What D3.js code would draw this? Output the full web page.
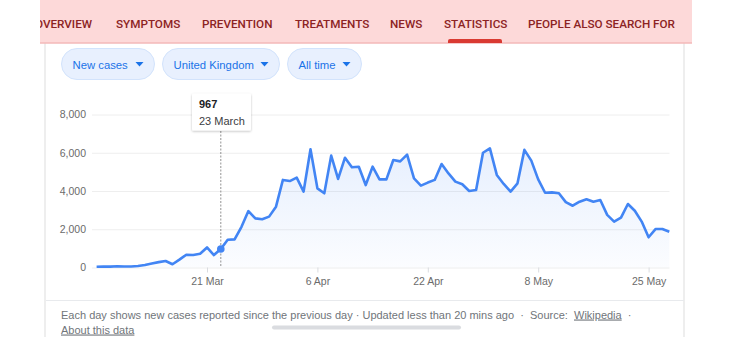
<!DOCTYPE html>
<html><head><meta charset="utf-8">
<script src="https://cdn.jsdelivr.net/npm/d3@7"></script>
<style>
html,body{margin:0;padding:0;background:#fff;overflow:hidden;}
svg{display:block;font-family:"Liberation Sans",Arial,sans-serif;}
</style></head>
<body><svg id="c" width="730" height="337"></svg>
<script>
const navItems = ["OVERVIEW","SYMPTOMS","PREVENTION","TREATMENTS","NEWS","STATISTICS","PEOPLE ALSO SEARCH FOR"];
const filters = ["New cases","United Kingdom","All time"];
const dates = ["5 Mar","6 Mar","7 Mar","8 Mar","9 Mar","10 Mar","11 Mar","12 Mar","13 Mar","14 Mar","15 Mar","16 Mar","17 Mar","18 Mar","19 Mar","20 Mar","21 Mar","22 Mar","23 Mar","24 Mar","25 Mar","26 Mar","27 Mar","28 Mar","29 Mar","30 Mar","31 Mar",
"1 Apr","2 Apr","3 Apr","4 Apr","5 Apr","6 Apr","7 Apr","8 Apr","9 Apr","10 Apr","11 Apr","12 Apr","13 Apr","14 Apr","15 Apr","16 Apr","17 Apr","18 Apr","19 Apr","20 Apr","21 Apr","22 Apr","23 Apr","24 Apr","25 Apr","26 Apr","27 Apr","28 Apr","29 Apr","30 Apr",
"1 May","2 May","3 May","4 May","5 May","6 May","7 May","8 May","9 May","10 May","11 May","12 May","13 May","14 May","15 May","16 May","18 May","19 May","20 May","21 May","22 May","23 May","24 May","25 May","26 May","27 May","28 May"];
const newCases = [40,50,45,65,50,55,80,130,210,280,340,170,410,670,650,720,1050,650,967,1450,1470,2130,2950,2570,2520,2660,3180,
4580,4520,4700,3970,6180,4140,3880,5850,4630,5740,5240,5270,4310,5270,4610,4610,5620,5550,5900,4660,4280,4440,4580,5410,4920,4490,4350,4000,4050,6000,
6230,4840,4370,3970,4400,6150,5590,4610,3910,3930,3880,3420,3230,3440,3570,3440,3530,2750,2400,2610,3320,2970,2400,1580,2010,2010,1870];
const xTickDates = ["21 Mar","6 Apr","22 Apr","8 May","25 May"];
const yTicks = [0,2000,4000,6000,8000];
const tooltipDate = "23 Mar";
const tooltipLabel = "23 March";
const footerText = "Each day shows new cases reported since the previous day · Updated less than 20 mins ago  ·  Source:  ";

const svg = d3.select("#c");
const defs = svg.append("defs");
const grad = defs.append("linearGradient").attr("id","ag").attr("x1",0).attr("y1",0).attr("x2",0).attr("y2",1);
grad.append("stop").attr("offset","0%").attr("stop-color","#4285f4").attr("stop-opacity",0.13);
grad.append("stop").attr("offset","100%").attr("stop-color","#4285f4").attr("stop-opacity",0.02);
const sh = defs.append("filter").attr("id","sh").attr("x","-20%").attr("y","-20%").attr("width","140%").attr("height","160%");
sh.append("feDropShadow").attr("dx",0).attr("dy",1).attr("stdDeviation",1.2).attr("flood-color","#000").attr("flood-opacity",0.25);

// card
svg.append("rect").attr("x",45).attr("y",30).attr("width",639).attr("height",330).attr("fill","#fff")
  .attr("stroke","#e3e3e3").attr("stroke-width",1.2);
svg.append("line").attr("x1",46).attr("x2",684).attr("y1",300.5).attr("y2",300.5).attr("stroke","#e8eaed");

// header band
svg.append("rect").attr("x",40).attr("y",0).attr("width",652).attr("height",43).attr("fill","#fdd9d9");
svg.append("line").attr("x1",40).attr("x2",692).attr("y1",43).attr("y2",43).attr("stroke","#f3b9b9").attr("stroke-width",1.5);
const navX = [41,116,202,295,390,444,528];
const nav = svg.append("g").attr("clip-path","url(#navclip)");
defs.append("clipPath").attr("id","navclip").append("rect").attr("x",40).attr("y",0).attr("width",652).attr("height",43);
nav.selectAll("text").data(navItems).join("text")
  .attr("x",(d,i)=>navX[i]-(i===0?6:0)).attr("y",27.5)
  .attr("font-family","Roboto, 'Liberation Sans', sans-serif").attr("font-weight",500).attr("font-size",11.7)
  .attr("fill","#8c2323").text(d=>d);
svg.append("path").attr("d","M448,43 v-2 a2,2 0 0 1 2,-2 h50 a2,2 0 0 1 2,2 v2 z").attr("fill","#d93a32");

// filter chips
const chipX = [61.5,162.5,287.5], chipW=[93,117,74];
const chips = svg.selectAll("g.chip").data(filters).join("g").attr("class","chip");
chips.append("rect").attr("x",(d,i)=>chipX[i]).attr("y",48.5).attr("width",(d,i)=>chipW[i]).attr("height",31).attr("rx",15.5)
  .attr("fill","#e8f0fe").attr("stroke","#d2e3fc");
chips.append("text").attr("x",(d,i)=>chipX[i]+11).attr("y",68.5).attr("font-size",11.3).attr("fill","#1a73e8").text(d=>d);
chips.append("path").attr("d",(d,i)=>{const x=chipX[i]+chipW[i]-19;return `M${x},62 l8,0 l-4,4.5 z`;}).attr("fill","#1a73e8");

// scales
const x = d3.scalePoint().domain(dates).range([96.6,669.3]);
const y = d3.scaleLinear().domain([0,8000]).range([267.5,114.5]);

// grid + y axis
const yAxis = d3.axisLeft(y).tickValues(yTicks).tickSize(-(669.5-92)).tickFormat(d3.format(","));
const gy = svg.append("g").attr("transform","translate(92,0)").call(yAxis);
gy.select(".domain").remove();
gy.selectAll(".tick line").attr("stroke","#eeeeee");
gy.selectAll(".tick text").attr("x",-6).attr("font-size",10.5).attr("fill","#6b6b6b").attr("font-family","'Liberation Sans',Arial,sans-serif");

// x axis
const xAxis = d3.axisBottom(x).tickValues(xTickDates).tickSize(5).tickPadding(5);
const gx = svg.append("g").attr("transform","translate(0,267.5)").call(xAxis);
gx.select(".domain").remove();
gx.selectAll(".tick line").attr("stroke","#dadce0");
gx.selectAll(".tick text").attr("font-size",10.5).attr("fill","#6b6b6b").attr("font-family","'Liberation Sans',Arial,sans-serif");

// area + line
const pts = dates.map((d,i)=>({d, v:newCases[i]}));
svg.append("path").datum(pts).attr("fill","url(#ag)")
  .attr("d", d3.area().x(p=>x(p.d)).y0(y(0)).y1(p=>y(p.v)));
svg.append("path").datum(pts).attr("fill","none").attr("stroke","#4285f4").attr("stroke-width",2.6)
  .attr("stroke-linejoin","round").attr("d", d3.line().x(p=>x(p.d)).y(p=>y(p.v)));

// tooltip
const ti = dates.indexOf(tooltipDate);
const tx = x(tooltipDate), tv = newCases[ti];
svg.append("line").attr("x1",tx).attr("x2",tx).attr("y1",131).attr("y2",y(0))
  .attr("stroke","#777").attr("stroke-width",0.8).attr("stroke-dasharray","2,1.5");
svg.append("circle").attr("cx",tx).attr("cy",y(tv)).attr("r",3.8).attr("fill","#4285f4");
svg.append("rect").attr("x",192).attr("y",93.5).attr("width",59).attr("height",37).attr("rx",1.5)
  .attr("fill","#fff").attr("filter","url(#sh)");
svg.append("text").attr("x",199).attr("y",107.5).attr("font-size",11).attr("font-weight","bold").attr("fill","#202124").text(d3.format(",")(tv));
svg.append("text").attr("x",199).attr("y",125).attr("font-size",11).attr("fill","#3c4043").text(tooltipLabel);

// footer
const ft = svg.append("text").attr("x",61).attr("y",318.5).attr("font-size",11).attr("fill","#70757a").attr("xml:space","preserve").style("white-space","pre");
ft.append("tspan").text(footerText);
ft.append("tspan").attr("text-decoration","underline").text("Wikipedia");
ft.append("tspan").text("  ·");
svg.append("text").attr("x",61).attr("y",333.5).attr("font-size",11).attr("fill","#70757a").attr("text-decoration","underline").text("About this data");

// scrollbar
svg.append("rect").attr("x",272).attr("y",325.5).attr("width",189).attr("height",4).attr("rx",2).attr("fill","#dadce0");
</script></body></html>
